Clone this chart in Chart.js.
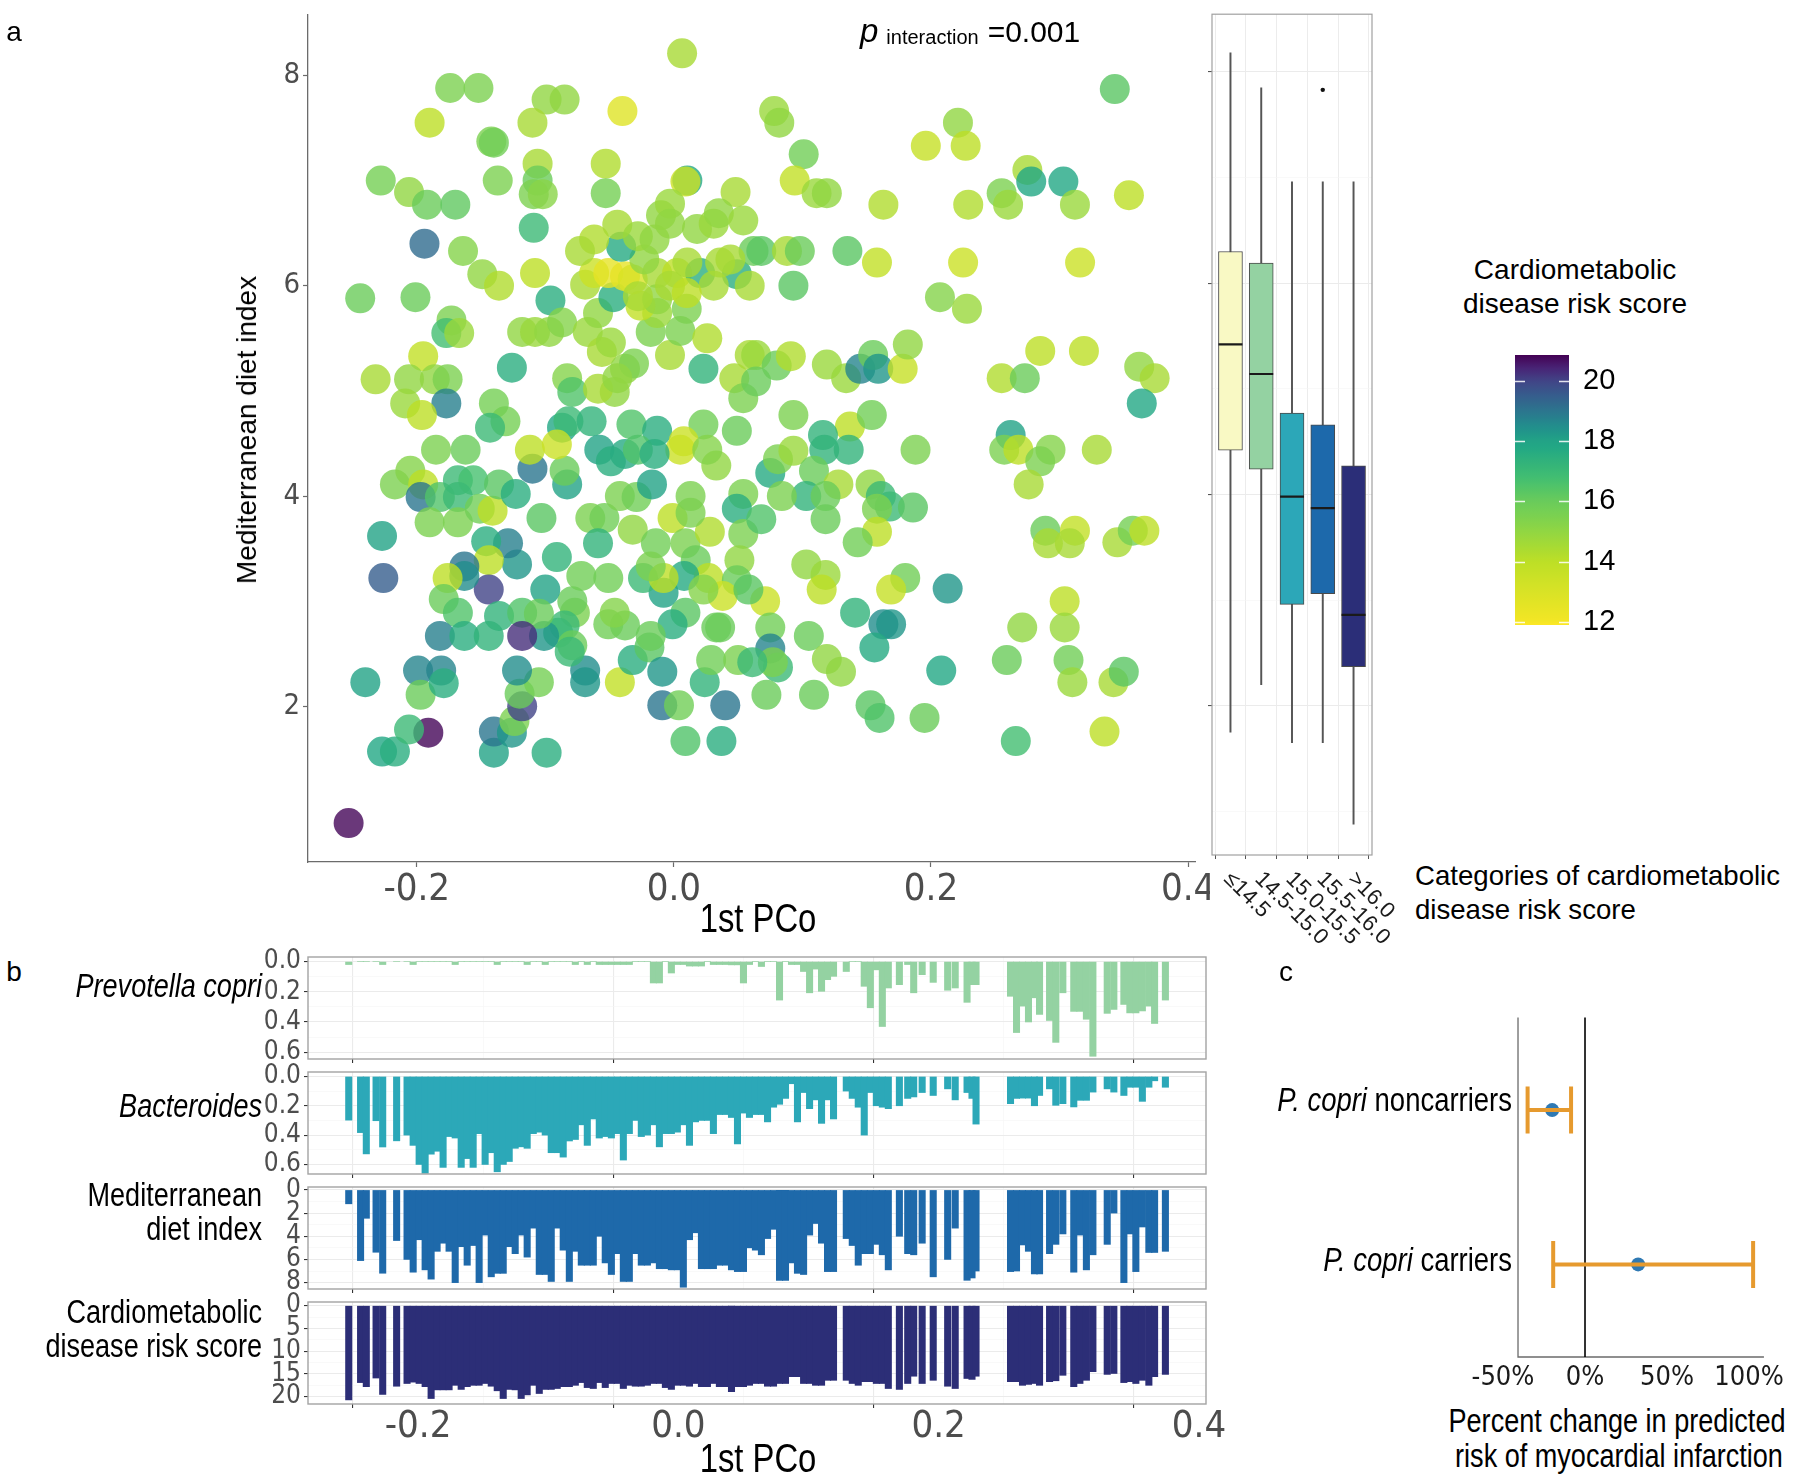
<!DOCTYPE html>
<html><head><meta charset="utf-8"><title>P. copri, diet and cardiometabolic risk</title>
<script src="https://cdn.jsdelivr.net/npm/chart.js@4.4.1/dist/chart.umd.min.js"></script>
<style>
html,body{margin:0;padding:0;background:#fff}
body{position:relative;width:1800px;height:1475px;overflow:hidden}
canvas{position:absolute}
.t{position:absolute;white-space:nowrap;line-height:1;color:#000}
</style></head><body>
<script>
// ---------------- DATA ----------------
// panel a: scatter (1st PCo, Mediterranean diet index, cardiometabolic risk score)
const scatterPCo = [
0.0064,-0.174,-0.152,-0.190,-0.099,-0.085,-0.110,-0.040,-0.142,-0.140,
-0.106,-0.053,-0.106,-0.109,-0.102,-0.053,-0.137,-0.228,-0.206,-0.192,
-0.170,0.0105,0.009,0.048,-0.109,-0.194,-0.164,-0.149,-0.136,-0.244,
-0.201,-0.173,-0.177,-0.167,-0.195,-0.232,-0.206,-0.186,-0.176,-0.177,
-0.209,-0.196,-0.126,-0.140,-0.131,-0.143,-0.083,-0.079,-0.096,-0.108,
-0.118,-0.108,-0.097,-0.087,-0.067,-0.059,-0.056,-0.049,-0.038,-0.031,
-0.046,-0.059,-0.018,-0.003,0.005,0.026,0.023,0.047,0.059,0.010,
-0.013,-0.026,-0.047,-0.069,-0.062,-0.051,-0.038,-0.032,-0.013,0.0025,
0.0205,0.049,0.036,0.0105,-0.023,-0.041,-0.062,-0.073,-0.044,-0.028,
-0.015,-0.010,-0.003,-0.003,0.018,0.031,0.035,0.054,0.062,0.044,
-0.013,-0.003,0.031,0.010,-0.028,-0.087,-0.082,-0.064,-0.033,-0.013,
0.023,0.049,0.0077,-0.044,0.054,
-0.253,-0.191,-0.227,-0.217,-0.206,-0.240,-0.199,-0.181,-0.197,-0.179,
-0.140,-0.140,-0.126,-0.099,-0.124,-0.118,-0.120,-0.105,-0.122,-0.069,
-0.069,-0.042,-0.032,-0.019,-0.009,-0.009,0.004,0.009,0.037,0.040,
0.024,0.029,0.050,-0.008,0.009,-0.001,0.033,0.036,-0.038,-0.051,
-0.046,-0.018,-0.077,-0.079,-0.085,-0.090,-0.079,-0.081,-0.101,-0.100,
-0.091,-0.103,-0.122,-0.129,-0.146,-0.144,-0.144,-0.163,-0.163,-0.176,
-0.179,-0.168,-0.182,-0.163,-0.144,-0.136,-0.118,-0.105,-0.118,-0.227,
-0.226,-0.217,-0.205,-0.195,-0.197,-0.182,-0.168,-0.156,-0.168,-0.190,
-0.168,-0.151,-0.141,-0.136,-0.123,-0.110,-0.083,-0.085,-0.065,-0.054,
-0.059,-0.042,-0.029,-0.032,-0.017,-0.014,-0.001,0.013,0.009,0.017,
0.028,0.027,0.008,-0.024,-0.008,-0.018,-0.051,-0.072,0.054,0.049,
0.054,0.051,0.049,0.038,0.023,0.013,0.005,0.033,0.026,
-0.038,-0.058,-0.049,-0.112,-0.091,-0.162,-0.185,-0.028,-0.015,
0.343,0.078,0.082,0.101,0.094,0.111,0.119,0.163,0.196,0.221,
0.227,0.229,0.255,0.260,0.275,0.278,0.303,0.312,0.354,0.068,
0.088,0.098,0.135,0.158,0.225,0.316,0.059,0.093,0.207,0.228,
0.064,0.080,0.091,0.064,0.119,0.134,0.145,0.155,0.159,0.178,
0.182,0.285,0.319,0.255,0.273,0.362,0.374,0.364,0.093,0.137,
0.154,0.116,0.262,
0.188,0.257,0.268,0.293,0.329,0.285,0.276,0.075,0.081,0.093,
0.117,0.136,0.109,0.128,0.153,0.103,0.084,0.118,0.161,0.168,
0.186,0.158,0.068,0.118,0.158,0.143,0.103,0.118,0.115,0.180,
0.169,0.213,0.071,0.058,0.141,0.163,0.169,0.156,0.075,0.075,
0.105,0.119,0.130,0.081,0.077,0.061,0.072,0.109,0.153,0.160,
0.195,0.208,0.266,0.259,0.271,0.304,0.304,0.307,0.310,0.342,
0.350,0.335,0.289,0.291,0.312,0.308,0.345,0.357,0.366
];
const scatterMDI = [
8.21,7.88,7.88,7.55,7.77,7.77,7.55,7.66,7.37,7.36,
7.16,7.16,7.00,6.87,6.87,6.88,7.00,7.00,6.89,6.77,
6.77,7.00,6.99,6.89,6.55,6.40,6.33,6.11,6.00,5.88,
5.89,5.67,5.55,5.55,5.33,5.11,5.11,5.11,5.11,4.88,
4.88,4.77,5.22,4.88,4.71,4.65,5.12,4.99,5.86,6.12,
5.56,5.56,5.56,5.65,5.56,5.74,5.37,5.46,5.21,5.26,
4.99,5.02,5.56,5.34,5.57,5.50,5.21,5.12,5.34,5.78,
5.74,5.81,5.89,6.01,6.12,6.12,6.09,6.06,6.12,6.12,
6.12,6.11,6.22,6.22,6.25,6.37,6.44,6.33,6.58,6.47,
6.44,6.67,6.78,6.59,6.54,6.59,6.69,6.62,6.33,6.25,
5.87,6.00,6.00,5.93,5.90,4.65,4.71,4.71,4.68,4.62,
4.68,4.62,4.52,5.12,4.93,
0.89,1.75,1.57,1.57,1.78,2.23,2.34,2.34,2.11,2.22,
1.56,1.76,1.75,1.56,1.86,2.00,2.12,2.23,2.34,2.34,
2.23,2.23,2.44,2.56,2.33,2.01,2.01,1.67,1.67,2.01,
2.23,2.44,2.44,3.08,2.89,2.78,2.75,2.75,2.77,2.78,
2.89,2.67,2.89,3.00,2.77,2.70,2.58,2.52,2.67,3.11,
3.42,3.79,3.35,3.55,3.57,3.39,3.11,3.33,3.24,3.22,
3.02,2.89,2.67,2.67,2.67,2.86,2.89,2.88,2.67,3.62,
3.22,4.11,4.24,4.11,3.99,3.99,4.15,4.15,3.99,3.75,
3.75,3.88,3.86,4.11,4.02,4.26,4.11,4.24,3.79,3.79,
3.55,4.00,3.99,3.68,4.11,3.55,3.79,4.00,3.55,3.39,
3.66,3.22,3.24,3.22,3.22,3.33,3.22,3.24,4.02,3.88,
3.64,3.39,3.20,3.05,3.11,3.84,4.44,4.29,4.44,
4.40,4.44,4.33,4.44,4.49,4.44,4.44,4.44,4.40,
7.87,7.66,7.55,7.25,7.00,6.88,6.88,6.77,7.33,7.55,
7.33,6.77,6.88,6.77,7.10,6.99,6.99,6.77,6.86,6.33,
6.33,6.33,6.33,6.22,6.22,6.22,6.00,6.00,5.89,5.78,
5.34,5.24,5.33,5.09,5.25,5.12,5.21,5.34,5.21,5.21,
5.44,5.38,5.38,5.12,5.12,5.23,5.12,4.88,4.77,4.66,
4.77,4.58,4.58,
4.44,4.44,4.44,4.44,4.44,4.33,4.11,4.22,4.35,4.43,
4.44,4.44,4.24,4.11,4.11,4.00,4.00,4.00,4.00,3.90,
3.89,3.88,3.78,3.78,3.66,3.56,3.35,3.25,3.11,3.22,
3.11,3.12,3.00,3.11,2.89,2.78,2.78,2.56,2.75,2.55,
2.67,2.45,2.33,2.37,2.42,2.42,2.11,2.11,2.01,1.89,
1.89,2.34,1.67,2.44,2.75,3.00,2.75,2.44,2.23,2.23,
2.33,1.76,3.67,3.55,3.67,3.55,3.56,3.67,3.67
];
const scatterScore = [
14.5,15.5,15.5,14,15,15,14.5,12.8,15.5,15.8,
14.5,14.3,16,15.5,15.2,15.7,15.5,15.7,15,16,
16.2,17.8,13.5,14.5,17,19.2,15.3,15,14.3,16,
16,15.5,16.8,14.8,13.8,14.5,15,15,15.5,18.8,
14.8,14,17.5,15.7,15.7,17,15.3,16.5,17.5,14,
15,14.8,15,15.3,14.8,15,14.5,14.8,15,15.5,
15,14.5,15.5,14.5,15.5,14.3,17.3,14.5,14.5,15.5,
14.8,13.8,17.5,14.5,13.5,12.5,12.5,13,14.5,14,
17.5,17.5,14.5,14.5,15,17.7,14.3,14.5,14.5,14.8,
15,15,14.8,15,15,14.8,15,14.8,16,14.5,
15,14.5,14.5,14,14.5,17.8,17,17.3,16.5,17.5,
15.8,16,13.5,15,15.5,
20.8,20.8,17.8,17.5,17,18,18.7,18.7,16,17.5,
18,19,18.3,17.5,15.5,20,16,15.7,18.5,18.5,
18.3,13.8,17.5,16.3,18.3,19,15.8,16.5,17.5,19,
17.3,15.8,15.5,18,16.3,17.5,16,16,16,15.8,
15.3,16,15.5,16,17,17,16,17,18.3,18,
17.3,16.3,18.3,18.8,17.5,14,20,19,18.5,14,
16,16.5,18.8,17.5,17.3,17.3,16.5,16,20.3,18,
19.5,15.5,15.3,14,19,16.5,17,16.7,17,15.5,
15.5,15.8,14,16.3,17.5,19,18,16,15.5,15.8,
17.3,15.5,15.8,15,18,15.8,14,15.5,15.5,16,
14.3,14,17.7,17,14,15.5,15.8,15.8,15.5,17.5,
15.5,15,16,13.5,15.3,15.5,13.5,15,15.3,
17.7,18,17.5,14,13.5,16,15.5,16.5,17.5,
16.3,14.8,15,15.8,13.8,14.8,15,14.3,13.7,15,
14,14.3,15.5,14.8,14.5,17.8,17.8,14.8,14,16.3,
14.5,16,16.3,13.8,13.5,13.5,14.5,16.3,15.3,14.8,
14.8,16,14.3,16,14.8,14.8,18.7,16,18.3,13.7,
15,14,14,14.3,16,15,14.5,17.8,15.5,14,
15.8,17.3,18,
15.5,15.5,14,15.3,14.5,15.5,14.5,17.7,15.5,14.8,
17.3,17.3,16,14.5,15,17.3,15.5,16,17,17,
16.3,15.5,16.5,16,14,15.8,15,14.8,14,15.8,
13.7,18.3,13.5,16.3,17.3,18.5,18.3,17.7,15.8,18.7,
16,15,15,17,15.5,17,16,16,16.3,16.5,
16,17.8,16.8,16,15,14,14.8,15.8,14.8,14.5,
16.3,14,16,14.5,13.8,14.5,14.5,15.7,14
];
const pcoTicks = [-0.2, 0, 0.2, 0.4];
const pcoTickLabels = ["-0.2", "0.0", "0.2", "0.4"];
const mdiTicks = [2, 4, 6, 8];
const mdiTickLabels = ["2", "4", "6", "8"];

// boxplot of diet index by risk-score category
const boxCategories = ["\u226414.5", "14.5-15.0", "15.0-15.5", "15.5-16.0", ">16.0"];
const boxWhiskerLow  = [1.75, 2.20, 1.65, 1.65, 0.88];
const boxQ1          = [4.42, 4.24, 2.96, 3.06, 2.37];
const boxMedian      = [5.42, 5.14, 3.98, 3.87, 2.86];
const boxQ3          = [6.30, 6.19, 4.77, 4.66, 4.27];
const boxWhiskerHigh = [8.18, 7.85, 6.96, 6.96, 6.96];
const boxOutlierCat  = [4];
const boxOutlierVal  = [7.83];

// colour bar
const colorbarTicks = [12, 14, 16, 18, 20];
const SCORE_MIN = 11.9, SCORE_MAX = 20.86;

// panel b: per-sample bars along the 1st PCo
const barPCo = [
-0.2533,-0.2442,-0.2398,-0.2323,-0.2272,-0.2165,
-0.2085,-0.2038,-0.1992,-0.1946,-0.1900,-0.1854,-0.1808,-0.1762,-0.1715,-0.1669,
-0.1623,-0.1577,-0.1531,-0.1485,-0.1438,-0.1392,-0.1346,-0.1300,-0.1254,-0.1208,
-0.1162,-0.1115,-0.1069,-0.1023,-0.0977,-0.0931,-0.0885,-0.0838,-0.0792,-0.0746,
-0.0700,-0.0654,-0.0608,-0.0562,
-0.0515,-0.0469,-0.0423,-0.0377,-0.0331,-0.0285,-0.0238,-0.0192,-0.0146,-0.0100,
-0.0054,-0.0008,0.0038,0.0085,0.0131,0.0177,0.0223,0.0269,0.0315,0.0362,
0.0408,0.0454,0.0500,0.0546,0.0592,0.0638,0.0685,0.0731,0.0777,0.0823,
0.0869,0.0915,0.0962,0.1008,0.1054,0.1100,0.1146,0.1192,
0.1290,0.1336,0.1382,0.1428,0.1475,0.1521,0.1567,0.1613,0.1698,
0.1762,0.1808,0.1873,0.1958,0.2069,0.2127,0.2218,0.2256,0.2287,
0.2552,0.2598,0.2644,0.2690,0.2736,0.2775,
0.2852,0.2900,0.2954,
0.3038,0.3085,0.3135,0.3185,
0.3295,0.3346,
0.3423,0.3469,0.3515,0.3565,
0.3615,0.3659,
0.3742
];
const barPrevotella = [
0.02,0,0,0,0.02,0,
0,0.02,0,0,0,0,0,0,0.02,0,
0,0,0,0,0,0.02,0,0,0,0,
0.02,0,0,0.02,0,0,0,0,0.02,0,
0.02,0,0.02,0.02,
0.02,0.02,0.02,0.02,0,0,0,0.142,0.142,0,
0.076,0.02,0.02,0.03,0.03,0.03,0,0.02,0.02,0.02,
0.022,0.022,0.142,0.02,0,0.033,0,0,0.255,0,
0.02,0.02,0.066,0.207,0.05,0.197,0.12,0.098,
0.066,0,0,0.164,0.306,0.055,0.43,0.175,0.153,
0.02,0.207,0.087,0.138,0.19,0.175,0.27,0.153,0.153,
0.23,0.47,0.295,0.40,0.24,0.35,
0.39,0.535,0.207,
0.33,0.33,0.382,0.627,
0.343,0.317,
0.284,0.34,0.34,0.327,
0.295,0.41,
0.255
];
const barBacteroides = [
0.298,0.383,0.528,0.302,0.481,0.439,
0.40,0.47,0.60,0.66,0.53,0.51,0.62,0.41,0.42,0.62,
0.56,0.62,0.39,0.60,0.52,0.65,0.60,0.58,0.49,0.48,
0.49,0.39,0.38,0.40,0.52,0.52,0.55,0.44,0.43,0.33,
0.47,0.29,0.42,0.41,
0.42,0.39,0.57,0.39,0.30,0.41,0.40,0.33,0.48,0.39,
0.39,0.38,0.33,0.47,0.31,0.30,0.30,0.39,0.26,0.26,
0.28,0.46,0.25,0.28,0.26,0.26,0.31,0.21,0.19,0.15,
0.05,0.31,0.11,0.22,0.16,0.32,0.16,0.29,
0.10,0.15,0.21,0.40,0.11,0.20,0.21,0.22,0.20,
0.15,0.14,0.11,0.13,0.085,0.16,0.11,0.15,0.325,
0.186,0.15,0.148,0.148,0.20,0.13,
0.085,0.197,0.186,
0.208,0.163,0.163,0.107,
0.085,0.107,
0.13,0.074,0.074,0.17,
0.074,0.03,
0.074
];
const barMDI = [
1.2,6.1,2.45,5.38,7.19,4.37,
6.0,7.1,4.3,6.9,7.7,5.3,4.6,5.3,8.0,4.9,
6.5,4.8,8.0,3.9,7.5,7.2,7.2,4.9,5.5,3.9,
5.8,3.3,7.3,7.3,7.9,3.3,5.2,7.9,5.3,6.5,
6.5,6.5,4.0,6.3,
7.3,5.5,7.9,7.9,5.5,6.5,6.5,6.3,6.8,6.8,
6.9,6.9,8.4,4.3,3.7,6.8,6.8,6.8,6.5,6.5,
6.9,7.05,7.05,5.0,5.2,5.6,4.2,3.4,7.8,7.8,
6.3,7.2,7.3,3.9,2.9,4.6,7.05,7.05,
4.2,4.8,6.5,5.5,5.5,4.7,5.6,6.9,4.0,
5.5,5.6,4.6,7.5,6.0,3.3,7.8,7.6,7.0,
7.05,7.0,4.75,5.3,7.25,7.25,
5.5,4.7,3.8,
7.1,3.9,6.9,5.6,
4.7,2.0,
8.0,3.8,7.05,3.2,
5.4,5.4,
5.3
];
const barScore = [
20.7,16.9,17.8,15.9,19.5,17.7,
17.1,16.8,17.1,17.8,20.4,18.5,18.5,18.5,17.5,18.4,
17.8,17.5,17.5,17.1,17.7,18.7,20.4,18.4,18.5,20.4,
19.6,17.5,19.3,18.4,18.4,18.2,17.8,17.8,17.5,16.9,
18.0,18.2,16.9,18.0,
17.1,17.1,18.2,17.5,17.7,17.7,17.5,17.1,17.1,18.0,
18.4,17.5,17.5,17.7,17.1,17.8,17.8,17.1,17.8,17.8,
18.9,17.8,17.8,17.5,17.1,17.1,17.7,17.7,17.1,17.1,
15.6,15.6,17.1,17.1,17.5,17.5,16.4,16.4,
16.4,17.1,17.5,16.7,16.7,17.1,17.1,18.2,18.4,
17.1,15.5,17.1,16.4,17.7,18.2,16.0,16.2,15.5,
16.7,16.7,17.5,17.3,17.1,17.5,
16.7,16.5,15.3,
17.8,17.1,16.4,14.5,
15.1,14.9,
16.9,16.7,17.1,16.4,
17.5,15.6,
15.1
];
const abundTicks = [0, 0.2, 0.4, 0.6], abundTickLabels = ["0.0", "0.2", "0.4", "0.6"], abundMinor = [0.1, 0.3, 0.5];
const mdiBarTicks = [0, 2, 4, 6, 8], mdiBarTickLabels = ["0", "2", "4", "6", "8"], mdiBarMinor = [1, 3, 5, 7];
const scoreTicks = [0, 5, 10, 15, 20], scoreTickLabels = ["0", "5", "10", "15", "20"], scoreMinor = [2.5, 7.5, 12.5, 17.5];
const pcoMinor = [-0.1, 0.1, 0.3];

// panel c: percent change in predicted MI risk
const forestGroups   = ["noncarriers", "carriers"];
const forestEstimate = [-20.0, 32.4];
const forestLow      = [-35.0, -19.4];
const forestHigh     = [-8.5, 102.5];
const pctTicks = [-50, 0, 50, 100];
const pctTickLabels = ["-50%", "0%", "50%", "100%"];

// ---------------- STYLE / HELPERS ----------------
const FONT_R = "'Liberation Sans', Arial, Helvetica, sans-serif";
const FONT_N = "'Liberation Sans Narrow', 'Arial Narrow', 'DejaVu Sans Condensed', 'Liberation Sans', sans-serif";
const NARROW = 0.82;
const VIRIDIS = [[68,1,84],[72,36,117],[65,68,135],[53,95,141],[42,120,142],[33,145,140],[34,168,132],[68,191,112],[122,209,81],[189,223,38],[253,231,37]];
// colour-scale position of each score
const CSCALE_S = [20.86, 20, 18, 16, 14, 12, 11.9];
const CSCALE_T = [0, 0.2, 0.58, 0.77, 0.9, 0.985, 1];
function scoreToT(s) {
  if (s >= CSCALE_S[0]) return 0;
  for (let i = 1; i < CSCALE_S.length; i++) {
    if (s >= CSCALE_S[i]) {
      const f = (CSCALE_S[i - 1] - s) / (CSCALE_S[i - 1] - CSCALE_S[i]);
      return CSCALE_T[i - 1] + f * (CSCALE_T[i] - CSCALE_T[i - 1]);
    }
  }
  return 1;
}
function riskColor(s, a) {
  const t = scoreToT(s) * 10;
  const i = Math.min(9, Math.floor(t)), f = t - i;
  const c0 = VIRIDIS[i], c1 = VIRIDIS[i + 1];
  const c = [0, 1, 2].map(k => Math.round(c0[k] + (c1[k] - c0[k]) * f));
  return 'rgba(' + c[0] + ',' + c[1] + ',' + c[2] + ',' + a + ')';
}
function mkCanvas(x, y, w, h) {
  const c = document.createElement('canvas');
  c.width = w; c.height = h;
  c.style.left = x + 'px'; c.style.top = y + 'px';
  c.style.width = w + 'px'; c.style.height = h + 'px';
  document.body.appendChild(c);
  return c;
}
function pad(cx, cy, cw, ch, area, wY, hX, yRight) {
  const [L, T, R, B] = area;
  if (yRight) return {left: L - cx, top: T - cy, right: cx + cw - R - wY, bottom: cy + ch - B - hX};
  return {left: L - cx - wY, top: T - cy, right: cx + cw - R, bottom: cy + ch - B - hX};
}
function fixW(w) { return s => { s.width = w; s.paddingTop = 0; s.paddingBottom = 0; s.paddingLeft = 0; s.paddingRight = 0; }; }
function fixH(h) { return s => { s.height = h; s.paddingLeft = 0; s.paddingRight = 0; s.paddingTop = 0; s.paddingBottom = 0; }; }
function setTicks(list) { return s => { s.ticks = list.map(v => ({value: v})); }; }
function near(a, b) { return Math.abs(a - b) < 1e-9; }
function isIn(v, list) { return list.some(m => near(m, v)); }
function lab(list, labels) { return v => { const i = list.findIndex(m => near(m, v)); return i >= 0 ? labels[i] : ''; }; }
const base = {responsive: false, maintainAspectRatio: false, animation: false, events: [], devicePixelRatio: 1,
  plugins: {legend: {display: false}, tooltip: {enabled: false}}};
function frame(color, w) {
  return {id: 'frame', afterDatasetsDraw(ch) {
    const a = ch.chartArea, c = ch.ctx;
    c.save(); c.strokeStyle = color; c.lineWidth = w;
    c.strokeRect(a.left, a.top, a.right - a.left, a.bottom - a.top); c.restore();
  }};
}
function txt(html, x, y, o) {
  o = o || {};
  const d = document.createElement('div');
  d.className = 't';
  d.innerHTML = html;
  d.style.left = x + 'px'; d.style.top = y + 'px';
  d.style.fontFamily = o.family || FONT_R;
  d.style.fontSize = (o.size || 28) + 'px';
  if (o.color) d.style.color = o.color;
  const ax = o.anchor === 'start' ? '0' : (o.anchor === 'end' ? '-100%' : '-50%');
  let tr = 'translate(' + ax + ',-50%)';
  if (o.rotate) tr += ' rotate(' + o.rotate + 'deg)';
  if (o.sx) tr += ' scaleX(' + o.sx + ')';
  d.style.transform = tr;
  d.style.transformOrigin = o.origin || (o.anchor === 'start' ? '0 50%' : (o.anchor === 'end' ? '100% 50%' : '50% 50%'));
  document.body.appendChild(d);
  return d;
}
function ntxt(html, x, y, o) { o = Object.assign({sx: NARROW}, o || {}); return txt(html, x, y, o); }
const AXIS = '#6b6b6b', TICKTXT = '#4d4d4d';

// ---------------- PANEL a: scatter ----------------
const PCO_MIN = -0.2846, PCO_MAX = 0.4054;
(function () {
  const cx = 0, cy = 0, cw = 1210, ch = 940, area = [308, 6, 1205, 862];
  new Chart(mkCanvas(cx, cy, cw, ch), {
    type: 'scatter',
    data: {datasets: [{
      data: scatterPCo.map((x, i) => ({x: x, y: scatterMDI[i]})),
      pointRadius: 15, pointHoverRadius: 15, pointBorderWidth: 0,
      pointBackgroundColor: scatterScore.map(s => riskColor(s, 0.8))
    }]},
    options: Object.assign({}, base, {
      layout: {padding: pad(cx, cy, cw, ch, area, 60, 60)},
      scales: {
        x: {type: 'linear', min: PCO_MIN, max: PCO_MAX, bounds: 'data',
          afterBuildTicks: setTicks(pcoTicks), afterFit: fixH(60),
          ticks: {callback: lab(pcoTicks, pcoTickLabels), font: {family: FONT_N, size: 38}, color: TICKTXT, padding: 0, maxRotation: 0},
          grid: {drawOnChartArea: false, drawTicks: true, tickLength: 5, tickColor: AXIS, tickWidth: 1.2},
          border: {display: true, color: AXIS, width: 1.3}},
        y: {type: 'linear', min: 0.52, max: 8.574, bounds: 'data',
          afterBuildTicks: setTicks(mdiTicks), afterFit: fixW(60),
          ticks: {callback: lab(mdiTicks, mdiTickLabels), font: {family: FONT_N, size: 29}, color: TICKTXT, padding: 3},
          grid: {drawOnChartArea: false, drawTicks: true, tickLength: 5, tickColor: AXIS, tickWidth: 1.2},
          border: {display: true, color: AXIS, width: 1.3}}
      }
    })
  });
})();

// ---------------- PANEL a: boxplot ----------------
(function () {
  const cx = 1190, cy = 0, cw = 200, ch = 880, area = [1212, 9, 1372, 855];
  const boxFill = ['#F9F9C4', '#94D2A2', '#2CA7B8', '#1D69AB', '#2B2E78'];
  const yAll = [1, 2, 3, 4, 5, 6, 7, 8];
  new Chart(mkCanvas(cx, cy, cw, ch), {
    type: 'bar',
    data: {datasets: [
      {type: 'bar', order: 4, grouped: false, barThickness: 1.3, backgroundColor: '#555',
        data: boxCategories.map((c, i) => ({x: i + 1, y: [boxWhiskerLow[i], boxWhiskerHigh[i]]}))},
      {type: 'bar', order: 3, grouped: false, barThickness: 24, backgroundColor: boxFill,
        borderColor: '#4a4a4a', borderWidth: 1, borderSkipped: false,
        data: boxCategories.map((c, i) => ({x: i + 1, y: [boxQ1[i], boxQ3[i]]}))},
      {type: 'line', order: 2, showLine: false, pointStyle: 'line', pointRadius: 12, pointBorderWidth: 2.2,
        pointBorderColor: '#1a1a1a', borderColor: '#1a1a1a',
        data: boxCategories.map((c, i) => ({x: i + 1, y: boxMedian[i]}))},
      {type: 'line', order: 1, showLine: false, pointRadius: 2.2, pointBorderWidth: 0, pointBackgroundColor: '#111',
        data: boxOutlierCat.map((c, i) => ({x: c, y: boxOutlierVal[i]}))}
    ]},
    options: Object.assign({}, base, {
      layout: {padding: pad(cx, cy, cw, ch, area, 6, 6)},
      scales: {
        x: {type: 'linear', min: 0.4, max: 5.6, offset: false, bounds: 'data',
          afterBuildTicks: setTicks([1, 2, 3, 4, 5]), afterFit: fixH(6),
          ticks: {display: false},
          grid: {color: '#ececec', lineWidth: 1, drawTicks: true, tickLength: 4, tickColor: '#555'},
          border: {display: false}},
        y: {type: 'linear', min: 0.587, max: 8.546, bounds: 'data',
          afterBuildTicks: setTicks(yAll), afterFit: fixW(6),
          ticks: {display: false},
          grid: {color: c => (c.tick && isIn(c.tick.value, mdiTicks)) ? '#ebebeb' : '#f5f5f5',
            lineWidth: c => (c.tick && isIn(c.tick.value, mdiTicks)) ? 1.1 : 0.6,
            drawTicks: true, tickLength: 4,
            tickColor: c => (c.tick && isIn(c.tick.value, mdiTicks)) ? '#555' : 'rgba(0,0,0,0)'},
          border: {display: false}}
      }
    }),
    plugins: [frame('#a0a0a0', 1.2)]
  });
  boxCategories.forEach((c, i) => {
    const tx = 1212 + (i + 1 - 0.4) * (160 / 5.2);
    txt(c, tx - 2, 875, {size: 22, anchor: 'start', rotate: 45, origin: '0 50%', color: '#1a1a1a'});
  });
})();

// ---------------- colour bar legend ----------------
(function () {
  const cx = 1500, cy = 330, cw = 200, ch = 320, area = [1515, 355, 1569, 625];
  new Chart(mkCanvas(cx, cy, cw, ch), {
    type: 'bar',
    data: {datasets: [{
      data: [{x: 0.5, y: [SCORE_MIN, SCORE_MAX]}], barThickness: 54, borderWidth: 0,
      backgroundColor: ctx => {
        const a = ctx.chart.chartArea; if (!a) return '#000';
        const g = ctx.chart.ctx.createLinearGradient(0, a.bottom, 0, a.top);
        for (let k = 0; k <= 60; k++) g.addColorStop(k / 60, riskColor(SCORE_MIN + (SCORE_MAX - SCORE_MIN) * k / 60, 1));
        return g;
      }
    }]},
    options: Object.assign({}, base, {
      layout: {padding: pad(cx, cy, cw, ch, area, 80, 0, true)},
      scales: {
        x: {type: 'linear', min: 0, max: 1, display: false, offset: false},
        y: {type: 'linear', position: 'right', min: SCORE_MIN, max: SCORE_MAX, bounds: 'data',
          afterBuildTicks: setTicks(colorbarTicks), afterFit: fixW(80),
          ticks: {font: {family: FONT_R, size: 29}, color: '#000', padding: 14, callback: v => String(v)},
          grid: {display: false, drawTicks: false}, border: {display: false}}
      }
    }),
    plugins: [{id: 'cbticks', afterDatasetsDraw(chart) {
      const a = chart.chartArea, c = chart.ctx, ys = chart.scales.y;
      c.save(); c.strokeStyle = 'rgba(255,255,255,0.85)'; c.lineWidth = 1.4;
      colorbarTicks.forEach(v => {
        const y = Math.round(ys.getPixelForValue(v)) + 0.5;
        c.beginPath(); c.moveTo(a.left, y); c.lineTo(a.left + 10, y);
        c.moveTo(a.right - 10, y); c.lineTo(a.right, y); c.stroke();
      });
      c.restore();
    }}]
  });
})();

// ---------------- PANEL b: strips ----------------
function strip(top, values, color, yMin, yMax, majors, labels, minors, showX) {
  const cx = 200, cy = top - 10, cw = 1040, ch = showX ? 190 : 122, hX = showX ? 60 : 6;
  const area = [308, top, 1206, top + 102];
  const allY = majors.concat(minors).sort((a, b) => a - b);
  const allX = pcoTicks.concat(pcoMinor).sort((a, b) => a - b);
  new Chart(mkCanvas(cx, cy, cw, ch), {
    type: 'bar',
    data: {datasets: [{data: barPCo.map((x, i) => ({x: x, y: values[i]})), backgroundColor: color,
      barThickness: 6.4, borderWidth: 0}]},
    options: Object.assign({}, base, {
      layout: {padding: pad(cx, cy, cw, ch, area, 60, hX)},
      scales: {
        x: {type: 'linear', min: PCO_MIN, max: PCO_MAX, offset: false, bounds: 'data',
          afterBuildTicks: setTicks(allX), afterFit: fixH(hX),
          ticks: {display: showX, callback: lab(pcoTicks, pcoTickLabels), font: {family: FONT_N, size: 38}, color: TICKTXT, padding: -4, maxRotation: 0, autoSkip: false},
          grid: {color: c => (c.tick && isIn(c.tick.value, pcoTicks)) ? '#ebebeb' : '#f5f5f5',
            lineWidth: c => (c.tick && isIn(c.tick.value, pcoTicks)) ? 1.1 : 0.6,
            drawTicks: true, tickLength: 4,
            tickColor: c => (c.tick && isIn(c.tick.value, pcoTicks)) ? '#333' : 'rgba(0,0,0,0)'},
          border: {display: false}},
        y: {type: 'linear', reverse: true, min: yMin, max: yMax, bounds: 'data',
          afterBuildTicks: setTicks(allY), afterFit: fixW(60),
          ticks: {callback: lab(majors, labels), font: {family: FONT_N, size: 26}, color: TICKTXT, padding: 3, autoSkip: false},
          grid: {color: c => (c.tick && isIn(c.tick.value, majors)) ? '#ebebeb' : '#f5f5f5',
            lineWidth: c => (c.tick && isIn(c.tick.value, majors)) ? 1.1 : 0.6,
            drawTicks: true, tickLength: 4,
            tickColor: c => (c.tick && isIn(c.tick.value, majors)) ? '#333' : 'rgba(0,0,0,0)'},
          border: {display: false}}
      }
    }),
    plugins: [frame('#a3a3a3', 1.4)]
  });
}
strip(957, barPrevotella, '#94D2A2', -0.03, 0.645, abundTicks, abundTickLabels, abundMinor, false);
strip(1072, barBacteroides, '#2CA8B8', -0.03, 0.665, abundTicks, abundTickLabels, abundMinor, false);
strip(1187, barMDI, '#1E69AA', -0.25, 8.55, mdiBarTicks, mdiBarTickLabels, mdiBarMinor, false);
strip(1302, barScore, '#2C2E77', -0.8, 21.6, scoreTicks, scoreTickLabels, scoreMinor, true);

// ---------------- PANEL c: forest ----------------
(function () {
  const cx = 1450, cy = 990, cw = 350, ch = 410, area = [1494.8, 1004, 1768.7, 1357];
  const ORANGE = '#E69A2E';
  const caps = [];
  forestGroups.forEach((g, i) => { caps.push({x: forestLow[i], y: i + 1}); caps.push({x: forestHigh[i], y: i + 1}); });
  new Chart(mkCanvas(cx, cy, cw, ch), {
    type: 'scatter',
    data: {datasets: forestGroups.map((g, i) => ({
        type: 'line', showLine: true, borderColor: ORANGE, borderWidth: 4, pointRadius: 0,
        data: [{x: forestLow[i], y: i + 1}, {x: forestHigh[i], y: i + 1}]
      })).concat([
        {data: caps, pointStyle: 'line', pointRotation: 90, pointRadius: 23.5, pointBorderWidth: 4,
          pointBorderColor: ORANGE, borderColor: ORANGE},
        {data: forestEstimate.map((v, i) => ({x: v, y: i + 1})), pointRadius: 7, pointBorderWidth: 0,
          pointBackgroundColor: '#2F79B3'}
      ])},
    options: Object.assign({}, base, {
      layout: {padding: pad(cx, cy, cw, ch, area, 0, 40)},
      scales: {
        x: {type: 'linear', min: -55, max: 112, bounds: 'data',
          afterBuildTicks: setTicks(pctTicks), afterFit: fixH(40),
          ticks: {callback: lab(pctTicks, pctTickLabels), font: {family: FONT_N, size: 27}, color: '#1a1a1a', padding: 5, maxRotation: 0, autoSkip: false},
          grid: {display: false, drawTicks: false}, border: {display: false}},
        y: {type: 'linear', display: false, min: 0.4, max: 2.6, reverse: true}
      }
    }),
    plugins: [{id: 'forestAxes', beforeDatasetsDraw(chart) {
      const a = chart.chartArea, c = chart.ctx, xs = chart.scales.x;
      const xl = xs.getPixelForValue(-40.85), xr = xs.getPixelForValue(109.1), x0 = xs.getPixelForValue(0);
      c.save();
      c.strokeStyle = AXIS; c.lineWidth = 1.3;
      c.beginPath(); c.moveTo(xl, a.top); c.lineTo(xl, a.bottom); c.lineTo(xr, a.bottom); c.stroke();
      c.strokeStyle = '#000'; c.lineWidth = 1.6;
      c.beginPath(); c.moveTo(x0, a.top); c.lineTo(x0, a.bottom); c.stroke();
      c.restore();
    }}]
  });
})();

// ---------------- TEXT ----------------
txt('a', 14, 32, {size: 28});
txt('b', 14, 972, {size: 28});
txt('c', 1286, 972, {size: 28});
txt('<span style="font-style:italic;font-size:33px">p</span><span style="font-size:20px;margin-left:8px;position:relative;top:2px">interaction</span><span style="margin-left:9px">=' + '0.001' + '</span>',
  860, 30, {size: 30, anchor: 'start'});
txt('Mediterranean diet index', 247, 430, {size: 28, rotate: -90});
ntxt('1st PCo', 758, 918, {size: 40});
txt('Cardiometabolic', 1575, 270, {size: 28});
txt('disease risk score', 1575, 304, {size: 28});
txt('Categories of cardiometabolic', 1415, 876, {size: 27.6, anchor: 'start'});
txt('disease risk score', 1415, 910, {size: 27.6, anchor: 'start'});
ntxt('<i>Prevotella copri</i>', 262, 985, {size: 33, anchor: 'end'});
ntxt('<i>Bacteroides</i>', 262, 1105, {size: 33, anchor: 'end'});
ntxt('Mediterranean', 262, 1194, {size: 33, anchor: 'end'});
ntxt('diet index', 262, 1228, {size: 33, anchor: 'end'});
ntxt('Cardiometabolic', 262, 1311, {size: 33, anchor: 'end'});
ntxt('disease risk score', 262, 1345, {size: 33, anchor: 'end'});
ntxt('1st PCo', 758, 1458, {size: 40});
ntxt('<i>P. copri</i> noncarriers', 1512, 1100, {size: 33.5, anchor: 'end'});
ntxt('<i>P. copri</i> carriers', 1512, 1260, {size: 33.5, anchor: 'end'});
ntxt('Percent change in predicted', 1617, 1420, {size: 33});
ntxt('risk of myocardial infarction', 1619, 1455, {size: 33});
</script></body></html>
